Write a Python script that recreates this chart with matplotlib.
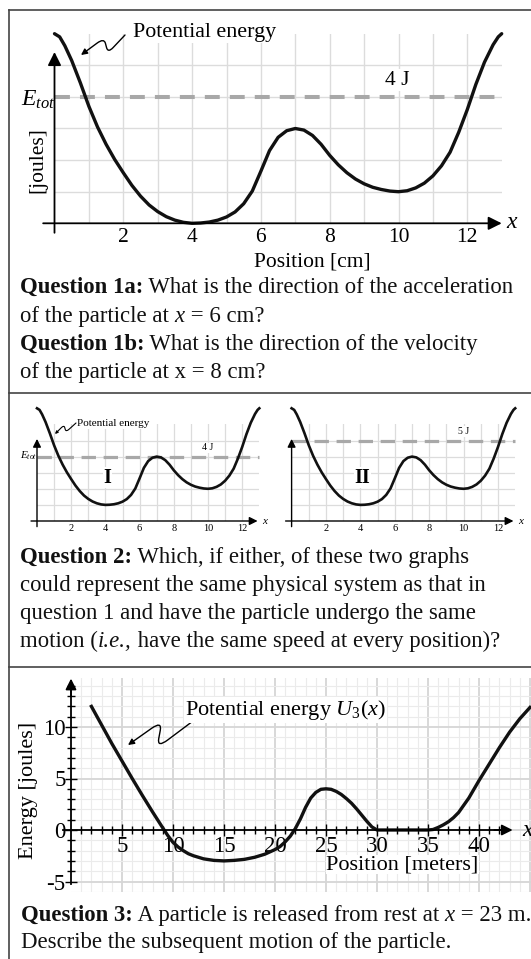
import matplotlib
matplotlib.use("Agg")
import matplotlib.pyplot as plt
from matplotlib.transforms import Affine2D
from matplotlib.lines import Line2D
from matplotlib.patches import FancyArrowPatch
from matplotlib.path import Path

# ---- data ----
# question 1 potential energy (x in cm, U in J)
q1_x = [0, 0.15, 0.3, 0.5, 0.75, 1, 1.25, 1.5, 1.75, 2, 2.25, 2.5, 2.75, 3, 3.25, 3.5,
        3.75, 4, 4.25, 4.5, 4.75, 5, 5.25, 5.5, 5.75, 6, 6.25, 6.5, 6.75, 7, 7.25, 7.5,
        7.75, 8, 8.25, 8.5, 8.75, 9, 9.25, 9.5, 9.75, 10, 10.25, 10.5, 10.75, 11, 11.25,
        11.5, 11.75, 12, 12.25, 12.5, 12.75, 12.9, 13]
q1_u = [6.0, 5.9, 5.62, 5.15, 4.45, 3.7, 3.05, 2.5, 2.02, 1.6, 1.2, 0.86, 0.58, 0.37,
        0.21, 0.1, 0.03, 0.0, 0.01, 0.04, 0.1, 0.2, 0.36, 0.62, 1.02, 1.65, 2.3, 2.72,
        2.93, 3.0, 2.95, 2.78, 2.5, 2.15, 1.85, 1.6, 1.4, 1.25, 1.14, 1.07, 1.02, 1.0,
        1.03, 1.12, 1.27, 1.5, 1.82, 2.25, 2.88, 3.6, 4.4, 5.1, 5.65, 5.9, 6.0]
q1_etot = 4
q1_ticks = [2, 4, 6, 8, 10, 12]

# question 2 graphs I and II (same x grid as question 1)
q2_u = [7.0, 6.9, 6.62, 6.15, 5.45, 4.7, 4.05, 3.5, 3.02, 2.6, 2.2, 1.86, 1.58, 1.37,
        1.21, 1.1, 1.03, 1.0, 1.01, 1.04, 1.1, 1.2, 1.36, 1.62, 2.02, 2.65, 3.3, 3.72,
        3.93, 4.0, 3.95, 3.78, 3.5, 3.15, 2.85, 2.6, 2.4, 2.25, 2.14, 2.07, 2.02, 2.0,
        2.03, 2.12, 2.27, 2.5, 2.82, 3.25, 3.88, 4.6, 5.4, 6.1, 6.65, 6.9, 7.0]
q2_etot_I = 4
q2_etot_II = 5

# question 3 potential energy U3 (x in m, U in J)
q3_x = [2, 3, 4, 5, 6, 7, 8, 9, 9.5, 10, 10.5, 11, 11.5, 12, 13, 14, 15, 16, 17, 18,
        19, 20, 20.5, 21, 21.5, 22, 22.5, 23, 23.5, 24, 24.5, 25, 25.5, 26, 26.5, 27,
        27.5, 28, 28.5, 29, 29.5, 30, 32, 35, 35.5, 36, 36.5, 37, 37.5, 38, 39, 40, 41,
        42, 43, 44, 45]
q3_u = [12.0, 10.2, 8.4, 6.7, 5.0, 3.35, 1.75, 0.2, -0.55, -1.2, -1.65, -2.0, -2.3,
        -2.5, -2.8, -2.95, -3.0, -2.95, -2.85, -2.65, -2.35, -1.9, -1.6, -1.15, -0.6,
        0.15, 1.1, 2.2, 3.1, 3.65, 3.95, 4.0, 3.95, 3.75, 3.45, 3.05, 2.6, 2.05, 1.45,
        0.85, 0.3, 0.0, 0.0, 0.0, 0.05, 0.25, 0.5, 0.8, 1.2, 1.7, 3.1, 4.8, 6.4, 8.0,
        9.5, 10.8, 11.9]
q3_xticks = [5, 10, 15, 20, 25, 30, 35, 40]
q3_yticks = [-5, 0, 5, 10]

plt.rcParams["font.family"] = ["Liberation Serif", "DejaVu Serif"]
plt.rcParams["mathtext.fontset"] = "custom"
plt.rcParams["mathtext.rm"] = "Liberation Serif"
plt.rcParams["mathtext.it"] = "Liberation Serif:italic"
plt.rcParams["mathtext.bf"] = "Liberation Serif:bold"

W, H = 531, 959
fig = plt.figure(figsize=(W / 100, H / 100), dpi=100)
# pixel coordinates, y downwards, like the picture
px = Affine2D().scale(1 / W, -1 / H).translate(0, 1) + fig.transFigure
renderer = fig.canvas.get_renderer()

CURVE = "#111111"
DASH = "#a8a8a8"
GRID = "#dcdcdc"
QSIZE = 16.4


def axes_px(left, top, right, bottom):
    ax = fig.add_axes([left / W, 1 - bottom / H, (right - left) / W, (bottom - top) / H])
    ax.patch.set_visible(False)
    return ax


def arrow(ax, start, end, lw=1.3, scale=18):
    ax.annotate("", xy=end, xytext=start, annotation_clip=False,
                arrowprops=dict(arrowstyle="-|>", color="black", lw=lw,
                                mutation_scale=scale, shrinkA=0, shrinkB=0))


def squiggle(a, b, c, d, lw=1.0, scale=10):
    # zigzag a -> b -> c -> d with rounded corners, arrow head at d
    def lerp(p, q, t):
        return (p[0] + (q[0] - p[0]) * t, p[1] + (q[1] - p[1]) * t)
    verts = [a, lerp(a, b, 0.7), b, lerp(b, c, 0.35), lerp(b, c, 0.65), c,
             lerp(c, d, 0.3), d]
    codes = [Path.MOVETO, Path.LINETO, Path.CURVE3, Path.CURVE3, Path.LINETO,
             Path.CURVE3, Path.CURVE3, Path.LINETO]
    fig.add_artist(FancyArrowPatch(path=Path(verts, codes), transform=px,
                                   arrowstyle="-|>", mutation_scale=scale, lw=lw,
                                   color="black", shrinkA=0, shrinkB=0))


def rich(x, y, parts, size=QSIZE):
    for s, kind in parts:
        kw = {}
        if kind == "b":
            kw["fontweight"] = "bold"
        if kind == "i":
            kw["fontstyle"] = "italic"
        t = fig.text(x, y, s, transform=px, fontsize=size, va="baseline", ha="left",
                     color="#111111", **kw)
        x += t.get_window_extent(renderer).width


# ---- frame lines ----
for (x0, y0, x1, y1) in [(9, 10, 531, 10), (9, 10, 9, 959), (9, 393, 531, 393),
                         (9, 667, 531, 667)]:
    fig.add_artist(Line2D([x0, x1], [y0, y1], transform=px, color="#444444", lw=1.2))

# ---- question 1 chart ----
ax1 = axes_px(54.5, 223.3 - 6 * 31.6, 54.5 + 13 * 34.4, 223.3)
ax1.set_xlim(0, 13)
ax1.set_ylim(0, 6)
ax1.axis("off")
for v in range(1, 13):
    ax1.axvline(v, color=GRID, lw=1.0, zorder=0)
for v in range(1, 6):
    ax1.axhline(v, color=GRID, lw=1.0, zorder=0)
ax1.plot([0, 13], [q1_etot, q1_etot], color=DASH, lw=2.9, ls=(0, (3.7, 2.5)), zorder=1,
         clip_on=False)
ax1.plot(q1_x, q1_u, color=CURVE, lw=2.4, zorder=3, clip_on=False,
         solid_capstyle="round", solid_joinstyle="round")
arrow(ax1, (-0.33, 0), (13.0, 0), scale=20)
arrow(ax1, (0, -0.3), (0, 5.42), scale=20)
for v in q1_ticks:
    ax1.text(v, -0.44, str(v), ha="center", va="center", fontsize=15.5)
ax1.text(9.95, 4.53, "4 J", ha="center", va="center", fontsize=15.5, zorder=4,
         bbox=dict(facecolor="white", edgecolor="none", pad=1))
fig.text(512, 223, "x", transform=px, fontsize=17, fontstyle="italic", ha="center",
         va="center")
fig.text(21, 100, r"$E_{tot}$", transform=px, fontsize=17, ha="left", va="center")
fig.text(38, 160, "[joules]", transform=px, fontsize=15.5, rotation=90, ha="center",
         va="center")
fig.text(312, 262, "Position [cm]", transform=px, fontsize=15.5, ha="center", va="center")
fig.text(133, 33, "Potential energy", transform=px, fontsize=15.8, ha="left",
         va="center", bbox=dict(facecolor="white", edgecolor="none", pad=0.5), zorder=5)
squiggle((125, 35), (108, 53), (104, 38), (81, 55), lw=1.0, scale=9)

rich(20, 293, [("Question 1a:", "b"), (" What is the direction of the acceleration", "")])
rich(20, 322, [("of the particle at ", ""), ("x", "i"), (" = 6 cm?", "")])
rich(20, 350, [("Question 1b:", "b"), (" What is the direction of the velocity", "")])
rich(20, 378, [("of the particle at x = 8 cm?", "")])

# ---- question 2 charts ----
for left, unit_x, etot, roman, elabel in [(37, 17.1, q2_etot_I, "I", "4 J"),
                                           (291.6, 17.2, q2_etot_II, "II", "5 J")]:
    ax = axes_px(left, 521 - 6 * 16.1, left + 13 * unit_x, 521)
    ax.set_xlim(0, 13)
    ax.set_ylim(0, 6)
    ax.axis("off")
    for v in range(1, 13):
        ax.axvline(v, color=GRID, lw=0.9, zorder=0)
    for v in range(1, 6):
        ax.axhline(v, color=GRID, lw=0.9, zorder=0)
    ax.plot([0, 13], [etot, etot], color=DASH, lw=2.3, ls=(0, (4.5, 2.4)), zorder=1,
            clip_on=False)
    ax.plot(q1_x, q2_u, color=CURVE, lw=1.9, zorder=3, clip_on=False,
            solid_joinstyle="round")
    arrow(ax, (-0.35, 0), (12.9, 0), lw=1.0, scale=12)
    arrow(ax, (0, -0.35), (0, 5.1), lw=1.0, scale=12)
    for v in q1_ticks:
        ax.text(v, -0.45, str(v), ha="center", va="center", fontsize=7.5)
    ax.text(13.3, 0, "x", ha="center", va="center", fontsize=8, fontstyle="italic")
    ax.text(10.0, etot + 0.55, elabel, ha="center", va="center", fontsize=7, zorder=4,
            bbox=dict(facecolor="white", edgecolor="none", pad=0.5))
    ax.text(4.1, 2.7, roman, ha="center", va="center", fontsize=14.5, fontweight="bold",
            zorder=4, bbox=dict(facecolor="white", edgecolor="none", pad=0.5))

fig.text(20, 456, r"$E_{tot}$", transform=px, fontsize=8, ha="left", va="center")
fig.text(77, 424, "Potential energy", transform=px, fontsize=8, ha="left", va="center",
         bbox=dict(facecolor="white", edgecolor="none", pad=0.3), zorder=5)
squiggle((76, 423), (66, 432), (64, 425), (55, 434), lw=0.8, scale=4)

rich(20, 563, [("Question 2:", "b"), (" Which, if either, of these two graphs", "")])
rich(20, 591, [("could represent the same physical system as that in", "")])
rich(20, 619, [("question 1 and have the particle undergo the same", "")])
rich(20, 647, [("motion (", ""), ("i.e.,", "i"), (" have the same speed at every position)?", "")])

# ---- question 3 chart ----
ax3 = axes_px(71, 830 - 14.8 * 10.3, 531, 830 + 6 * 10.3)
ax3.set_xlim(0, 460 / 10.2)
ax3.set_ylim(-6, 14.8)
for v in range(1, 46):
    major = v % 5 == 0
    ax3.axvline(v, color="#d6d6d6" if major else "#ebebeb", lw=1.3 if major else 0.8,
                zorder=0)
for v in range(-6, 15):
    major = v % 5 == 0
    ax3.axhline(v, color="#d6d6d6" if major else "#ebebeb", lw=1.3 if major else 0.8,
                zorder=0)
ax3.plot(q3_x, q3_u, color=CURVE, lw=2.4, zorder=3, clip_on=False,
         solid_joinstyle="round")
for side in ["top", "right"]:
    ax3.spines[side].set_visible(False)
ax3.spines["left"].set_position(("data", 0))
ax3.spines["bottom"].set_position(("data", 0))
ax3.spines["left"].set_bounds(-5.2, 13.8)
ax3.spines["bottom"].set_bounds(-0.8, 42.5)
for side in ["left", "bottom"]:
    ax3.spines[side].set_linewidth(1.3)
    ax3.spines[side].set_zorder(4)
ax3.set_xticks(q3_xticks, labels=[str(v) for v in q3_xticks])
ax3.set_xticks(range(1, 43), minor=True)
ax3.set_yticks(q3_yticks, labels=[str(v) for v in q3_yticks])
ax3.set_yticks(range(-5, 15), minor=True)
ax3.tick_params(which="both", direction="inout", width=1.0, labelsize=16.5, pad=0)
ax3.tick_params(which="major", length=8)
ax3.tick_params(which="minor", length=6)
arrow(ax3, (41.5, 0), (43.3, 0), scale=16)
arrow(ax3, (0, 13.0), (0, 14.7), scale=16)
ax3.text(32.5, -3.35, "Position [meters]", ha="center", va="center", fontsize=16,
         zorder=5, bbox=dict(facecolor="white", edgecolor="none", pad=0))
fig.text(522, 830, "x", transform=px, fontsize=17, fontstyle="italic", ha="left",
         va="center")
fig.text(28, 790, "Energy [joules]", transform=px, fontsize=16, rotation=90,
         ha="center", va="center")
fig.text(185, 710, r"Potential energy $U_{\mathrm{3}}(x)$", transform=px, fontsize=16,
         ha="left", va="center", zorder=5,
         bbox=dict(facecolor="white", edgecolor="none", pad=1))
squiggle((193, 721), (157, 748), (162, 721), (128, 745), lw=1.0, scale=9)

rich(21, 921, [("Question 3:", "b"), (" A particle is released from rest at ", ""),
               ("x", "i"), (" = 23 m.", "")])
rich(21, 948, [("Describe the subsequent motion of the particle.", "")])

fig.savefig("out.png", dpi=100)
